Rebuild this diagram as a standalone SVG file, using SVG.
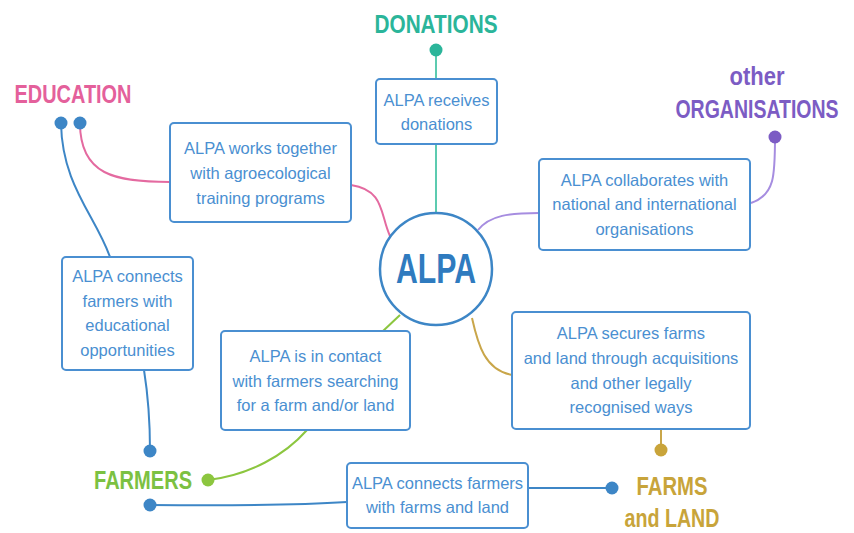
<svg xmlns="http://www.w3.org/2000/svg" width="854" height="533" viewBox="0 0 854 533">
<style>
.box{fill:#fff;stroke:#4a8fd1;stroke-width:2}
.bt{font-family:"Liberation Sans",Arial,sans-serif;font-size:16.5px;fill:#4a8fd1;text-anchor:middle}
.hd{font-family:"Liberation Sans",Arial,sans-serif;font-weight:bold;font-size:25px;text-anchor:middle}
.c{fill:none;stroke-width:2}
</style>
<rect width="854" height="533" fill="#fff"/>
<g id="connectors">
  <path class="c" stroke="#e46aa0" d="M80,123 C80,175 115,182 170,182"/>
  <path class="c" stroke="#e46aa0" d="M351,185 C385,190 380,215 390,236"/>
  <path class="c" stroke="#3d86c6" d="M61,123 C62,185 95,215 110,257"/>
  <path class="c" stroke="#3d86c6" d="M144,370 C148,395 150,420 150,451"/>
  <path class="c" stroke="#5ccbb0" d="M436,50 L436,79 M436,144 L436,213"/>
  <path class="c" stroke="#a68de0" d="M478,230 C490,215 510,213 539,213"/>
  <path class="c" stroke="#a68de0" d="M751,203 C775,195 775,175 775,137"/>
  <path class="c" stroke="#8cc63f" d="M383,331 L400,315"/>
  <path class="c" stroke="#8cc63f" d="M208,480 C250,475 285,455 307,430"/>
  <path class="c" stroke="#c9a64a" d="M472,318 C478,345 485,370 512,375"/>
  <path class="c" stroke="#c9a64a" d="M661,430 L661,450"/>
  <path class="c" stroke="#3d86c6" d="M150,505 C250,506 300,505 347,502"/>
  <path class="c" stroke="#3d86c6" d="M528,488 L612,488"/>
  <circle cx="61" cy="123" r="6.5" fill="#3d86c6"/>
  <circle cx="80" cy="123" r="6.5" fill="#3d86c6"/>
  <circle cx="436" cy="50" r="6.5" fill="#2bb59a"/>
  <circle cx="775" cy="137" r="6.5" fill="#7c5cc4"/>
  <circle cx="150" cy="451" r="6.5" fill="#3d86c6"/>
  <circle cx="150" cy="505" r="6.5" fill="#3d86c6"/>
  <circle cx="208" cy="480" r="6.5" fill="#8cc63f"/>
  <circle cx="612" cy="488" r="6.5" fill="#3d86c6"/>
  <circle cx="661" cy="450" r="6.5" fill="#c9a43a"/>
</g>
<g id="alpa">
  <circle cx="436" cy="269" r="56" fill="#fff" stroke="#3d86c6" stroke-width="2.5"/>
  <text x="436" y="283" font-family="'Liberation Sans',Arial,sans-serif" font-weight="bold" font-size="42" fill="#2f7bbf" text-anchor="middle" textLength="80" lengthAdjust="spacingAndGlyphs">ALPA</text>
</g>
<g id="education">
  <text class="hd" x="73" y="103" fill="#e4609b" textLength="117" lengthAdjust="spacingAndGlyphs">EDUCATION</text>
</g>
<g id="donations">
  <text class="hd" x="436" y="33" fill="#2bb59a" textLength="123" lengthAdjust="spacingAndGlyphs">DONATIONS</text>
</g>
<g id="organisations">
  <text class="hd" x="757" y="85" fill="#7c5cc4" textLength="55" lengthAdjust="spacingAndGlyphs">other</text>
  <text class="hd" transform="translate(757,118) scale(0.78,1)" x="0" y="0" fill="#7c5cc4">ORGANISATIONS</text>
</g>
<g id="farmers">
  <text class="hd" x="143" y="489" fill="#7cc142" textLength="98" lengthAdjust="spacingAndGlyphs">FARMERS</text>
</g>
<g id="farmsland">
  <text class="hd" x="672" y="495" fill="#c8a43a" textLength="71" lengthAdjust="spacingAndGlyphs">FARMS</text>
  <text class="hd" x="672" y="527" fill="#c8a43a" textLength="95" lengthAdjust="spacingAndGlyphs">and LAND</text>
</g>
<g id="box-training">
  <rect class="box" x="170" y="123" width="181" height="99" rx="4"/>
  <text class="bt" x="260.5" y="154">ALPA works together</text>
  <text class="bt" x="260.5" y="179">with agroecological</text>
  <text class="bt" x="260.5" y="204">training programs</text>
</g>
<g id="box-donations">
  <rect class="box" x="376" y="79" width="121" height="65" rx="4"/>
  <text class="bt" x="436.5" y="106">ALPA receives</text>
  <text class="bt" x="436.5" y="130">donations</text>
</g>
<g id="box-collaborates">
  <rect class="box" x="539" y="159" width="211" height="91" rx="4"/>
  <text class="bt" x="644.5" y="186">ALPA collaborates with</text>
  <text class="bt" x="644.5" y="210">national and international</text>
  <text class="bt" x="644.5" y="235">organisations</text>
</g>
<g id="box-educational">
  <rect class="box" x="62" y="257" width="131" height="113" rx="4"/>
  <text class="bt" x="127.5" y="282">ALPA connects</text>
  <text class="bt" x="127.5" y="307">farmers with</text>
  <text class="bt" x="127.5" y="331">educational</text>
  <text class="bt" x="127.5" y="356">opportunities</text>
</g>
<g id="box-contact">
  <rect class="box" x="221" y="331" width="189" height="99" rx="4"/>
  <text class="bt" x="315.5" y="362">ALPA is in contact</text>
  <text class="bt" x="315.5" y="387">with farmers searching</text>
  <text class="bt" x="315.5" y="411">for a farm and/or land</text>
</g>
<g id="box-secures">
  <rect class="box" x="512" y="312" width="238" height="117" rx="4"/>
  <text class="bt" x="631" y="339">ALPA secures farms</text>
  <text class="bt" x="631" y="364">and land through acquisitions</text>
  <text class="bt" x="631" y="389">and other legally</text>
  <text class="bt" x="631" y="413">recognised ways</text>
</g>
<g id="box-farms">
  <rect class="box" x="347" y="463" width="181" height="65" rx="4"/>
  <text class="bt" x="437.5" y="489">ALPA connects farmers</text>
  <text class="bt" x="437.5" y="513">with farms and land</text>
</g>
</svg>
